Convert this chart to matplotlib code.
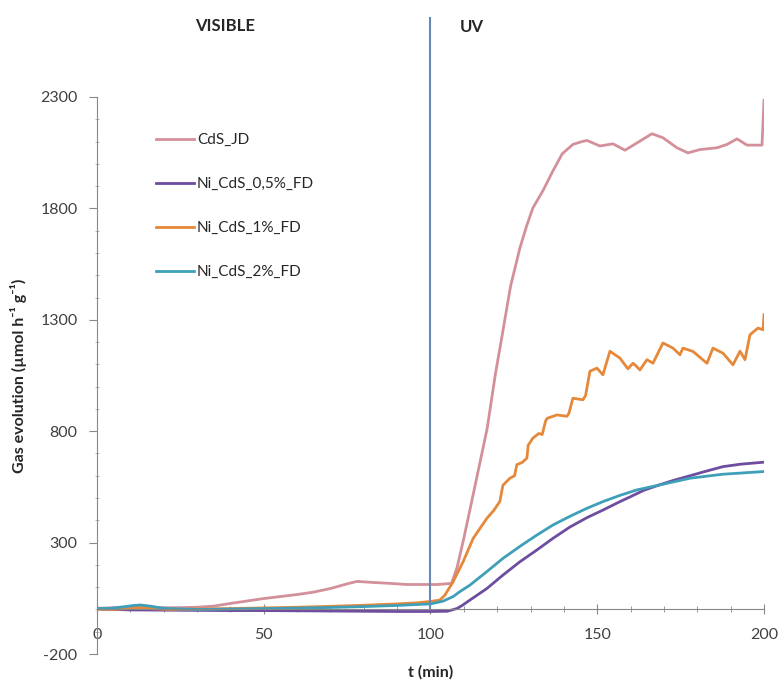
import matplotlib.pyplot as plt
from matplotlib.ticker import MultipleLocator

plt.rcParams['font.family'] = ['Lato', 'DejaVu Sans']
plt.rcParams['axes.unicode_minus'] = False

UV_START = 100

# CdS_JD
cds_t = [0, 5, 10, 15, 20, 25, 30, 35, 40, 45, 50, 55, 60, 65, 70, 75, 78, 83,
         88, 93, 98, 102, 106.3, 108, 110, 113, 117, 119.5, 121.7, 124, 126.8,
         128.8, 130.7, 133.7, 136.7, 139.5, 142.7, 145, 146.9, 150.8, 154.7,
         158.3, 162.8, 166.4, 169.7, 173.9, 177.2, 180.8, 185.9, 188.9, 191.9,
         194.9, 199.4, 200]
cds_y = [5, 8, 10, 10, 8, 8, 10, 15, 27, 38, 49, 58, 67, 78, 94, 115, 126, 121,
         117, 112, 112, 112, 117, 190, 320, 530, 813, 1060, 1249, 1450, 1622,
         1720, 1802, 1879, 1968, 2045, 2087, 2098, 2105, 2080, 2090,
         2061, 2102, 2135, 2117, 2072, 2049, 2064, 2072, 2087, 2112,
         2084, 2084, 2285]

# Ni_CdS_0,5%_FD
ni05_t = [0, 5, 10, 20, 30, 40, 50, 60, 70, 80, 90, 100, 105, 107.9, 109.5,
          111.8, 116.9, 121.7, 126.8, 131.9, 136.7, 141.8, 146.9, 151.7, 156.8,
          159.8, 164, 168.8, 173, 177.8, 182, 187.7, 193, 200]
ni05_y = [2, 0, -2, -3, -4, -5, -5, -6, -7, -8, -9, -9, -8, 4, 18,
          42, 94, 154, 214, 267, 319, 370, 412, 446, 484,
          505, 535, 560, 580, 600, 618, 641, 652, 661]

# Ni_CdS_1%_FD
ni1_t = [0, 5, 10, 13, 17, 22, 30, 40, 50, 60, 70, 80, 90, 96, 100, 102.8,
         104.3, 106.8, 109.8, 112.8, 116.9, 119, 120.8, 121.7, 123.8, 125.2,
         125.9, 127.5, 128.9, 129.3, 130.7, 132.5, 133.5, 134.5, 135, 137.9,
         140.9, 141.5, 142.7, 145.7, 146.5, 147.8, 149.9, 151.7, 153.8, 156.8,
         159.2, 160.7, 161.5, 162.8, 164.9, 166.7, 169.7, 172.7, 174.8, 175.7,
         178.7, 182.9, 184.7, 187.7, 190.7, 192.8, 194.3, 195.8, 198.2, 199.7,
         200]
ni1_y = [2, 0, 4, 8, 3, 0, 2, 4, 7, 10, 14, 19, 25, 30, 36, 42,
         64, 125, 215, 319, 409, 445, 485, 557, 589, 600,
         650, 660, 679, 737, 769, 790, 785, 845, 858, 873,
         867, 880, 948, 941, 960, 1069, 1083, 1053, 1159, 1128,
         1080, 1105, 1095, 1075, 1121, 1105, 1196, 1173, 1143, 1173,
         1158, 1105, 1173, 1150, 1098, 1159, 1121, 1233, 1263, 1255,
         1323]

# Ni_CdS_2%_FD
ni2_t = [0, 4, 8, 11, 13, 16, 20, 30, 40, 50, 60, 70, 80, 90, 100, 103.7,
         106.8, 108.8, 111.8, 116.9, 121.7, 126.8, 131.9, 136.7, 141.8, 146.9,
         151.7, 156.8, 162, 168.8, 177.8, 187.7, 200]
ni2_y = [5, 5, 12, 18, 20, 15, 5, 0, 2, 4, 6, 9, 13, 18, 25, 37,
         58, 80, 109, 170, 229, 283, 334, 379, 418, 454,
         484, 512, 537, 559, 589, 607, 619]

fig = plt.figure(figsize=(7.84, 6.81), dpi=100)
ax = fig.add_axes([0.1237, 0.0396, 0.8508, 0.818])

ax.plot(cds_t, cds_y, color='#d4909a', lw=2, label='CdS_JD')
ax.plot(ni05_t, ni05_y, color='#6e4c9f', lw=2, label='Ni_CdS_0,5%_FD')
ax.plot(ni1_t, ni1_y, color='#e6883a', lw=2, label='Ni_CdS_1%_FD')
ax.plot(ni2_t, ni2_y, color='#3ea0b8', lw=2, label='Ni_CdS_2%_FD')

ax.set_xlim(0, 200)
ax.set_ylim(-200, 2300)
ax.set_xticks([0, 50, 100, 150, 200])
ax.set_yticks([-200, 300, 800, 1300, 1800, 2300])
ax.xaxis.set_minor_locator(MultipleLocator(10))
ax.yaxis.set_minor_locator(MultipleLocator(100))

for side in ['top', 'right']:
    ax.spines[side].set_visible(False)
ax.spines['bottom'].set_position(('data', 0))
for side in ['left', 'bottom']:
    ax.spines[side].set_color('#888888')

ax.tick_params(axis='x', which='major', direction='inout', length=7, pad=10,
               color='#888888', labelcolor='#404040', labelsize=11.5)
ax.tick_params(axis='x', which='minor', direction='inout', length=5,
               color='#888888')
ax.tick_params(axis='y', which='major', direction='out', length=6, pad=8,
               color='#888888', labelcolor='#404040', labelsize=11.5)
ax.tick_params(axis='y', which='minor', direction='inout', length=3,
               color='#aaaaaa')

ax.set_xlabel('t (min)', fontsize=11.5, fontweight='bold', color='#262626')
ax.xaxis.set_label_coords(0.5, -0.02)
ax.set_ylabel('Gas evolution (µmol h⁻¹ g⁻¹)', fontsize=11.5,
              fontweight='bold', color='#262626')
ax.yaxis.set_label_coords(-0.105, 0.5)

# visible / UV boundary
ax.axvline(UV_START, ymin=0.08, ymax=1.142, color='#6589b8', lw=1.5,
           clip_on=False)
ax.text(38.3, 2620, 'VISIBLE', fontsize=12, fontweight='bold',
        ha='center', va='center', color='#262626')
ax.text(108.8, 2615, 'UV', fontsize=12, fontweight='bold',
        ha='left', va='center', color='#262626')

ax.legend(loc='upper left', bbox_to_anchor=(0.0675, 0.960), frameon=False,
          fontsize=11, handlelength=2.5, handletextpad=0.2,
          labelspacing=1.97, borderpad=0.4, labelcolor='#262626')

fig.savefig('out.png', dpi=100)
